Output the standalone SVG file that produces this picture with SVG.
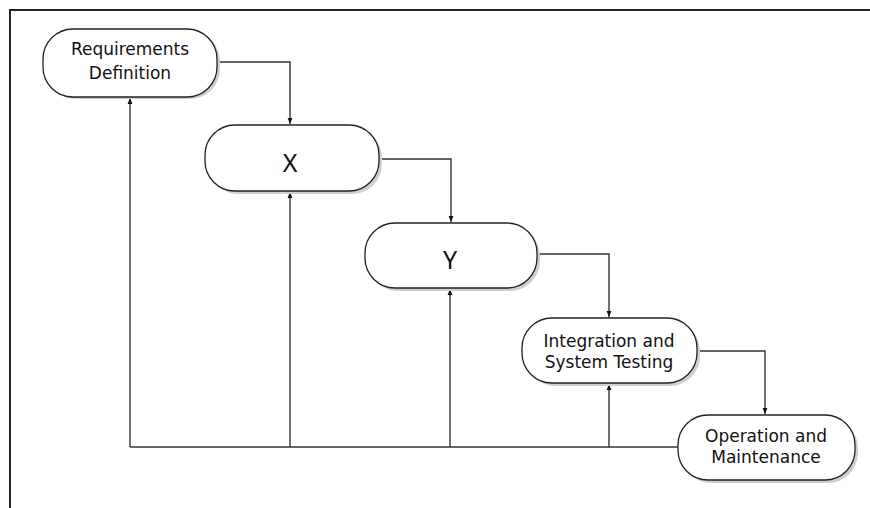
<svg xmlns="http://www.w3.org/2000/svg" width="870" height="508" viewBox="0 0 870 508">
<defs>
<style>
.node rect.sh{fill:#cfcfcf;stroke:none}
.node rect.bx{fill:#fff;stroke:#222;stroke-width:1.3}
.t{font-family:"DejaVu Sans","Noto Sans",sans-serif;font-size:17px;fill:#111;text-anchor:middle}
.big{font-family:"Noto Sans","DejaVu Sans",sans-serif;font-size:25px;fill:#111;text-anchor:middle}
.c{fill:none;stroke:#333;stroke-width:1.4}
.frame{stroke:#222;stroke-width:2;fill:none}
</style>
<marker id="ah" viewBox="0 0 10 10" refX="10" refY="5" markerWidth="6" markerHeight="9" markerUnits="userSpaceOnUse" orient="auto">
<path d="M0,1 L10,5 L0,9 Z" fill="#111"/>
</marker>
</defs>
<rect width="870" height="508" fill="#fff"/>
<path class="frame" d="M10,508 V10 H870"/>
<g id="connectors">
<path class="c" d="M217,62 H290 V124" marker-end="url(#ah)"/>
<path class="c" d="M379,159 H451 V222" marker-end="url(#ah)"/>
<path class="c" d="M538,254 H609 V317" marker-end="url(#ah)"/>
<path class="c" d="M698,351 H765 V414" marker-end="url(#ah)"/>
<path class="c" d="M678,447 H130"/>
<path class="c" d="M130,447 V98" marker-end="url(#ah)"/>
<path class="c" d="M290,447 V192" marker-end="url(#ah)"/>
<path class="c" d="M450,447 V289" marker-end="url(#ah)"/>
<path class="c" d="M609,447 V384" marker-end="url(#ah)"/>
</g>
<g id="req" class="node">
<rect class="sh" x="46" y="31" width="174" height="68" rx="30"/>
<rect class="bx" x="43" y="29" width="174" height="68" rx="30"/>
<text class="t" x="130" y="55">Requirements</text>
<text class="t" x="130" y="79">Definition</text>
</g>
<g id="x" class="node">
<rect class="sh" x="208" y="128" width="174" height="66" rx="30"/>
<rect class="bx" x="205" y="125" width="174" height="66" rx="30"/>
<text class="big" x="290" y="172">X</text>
</g>
<g id="y" class="node">
<rect class="sh" x="368" y="226" width="172" height="65" rx="30"/>
<rect class="bx" x="365" y="223" width="172" height="65" rx="30"/>
<text class="big" x="450" y="269">Y</text>
</g>
<g id="integ" class="node">
<rect class="sh" x="525" y="321" width="175" height="65" rx="30"/>
<rect class="bx" x="522" y="318" width="175" height="65" rx="30"/>
<text class="t" x="609" y="347">Integration and</text>
<text class="t" x="609" y="368">System Testing</text>
</g>
<g id="oper" class="node">
<rect class="sh" x="681" y="418" width="177" height="65" rx="30"/>
<rect class="bx" x="678" y="415" width="177" height="65" rx="30"/>
<text class="t" x="766" y="442">Operation and</text>
<text class="t" x="766" y="463">Maintenance</text>
</g>
</svg>
